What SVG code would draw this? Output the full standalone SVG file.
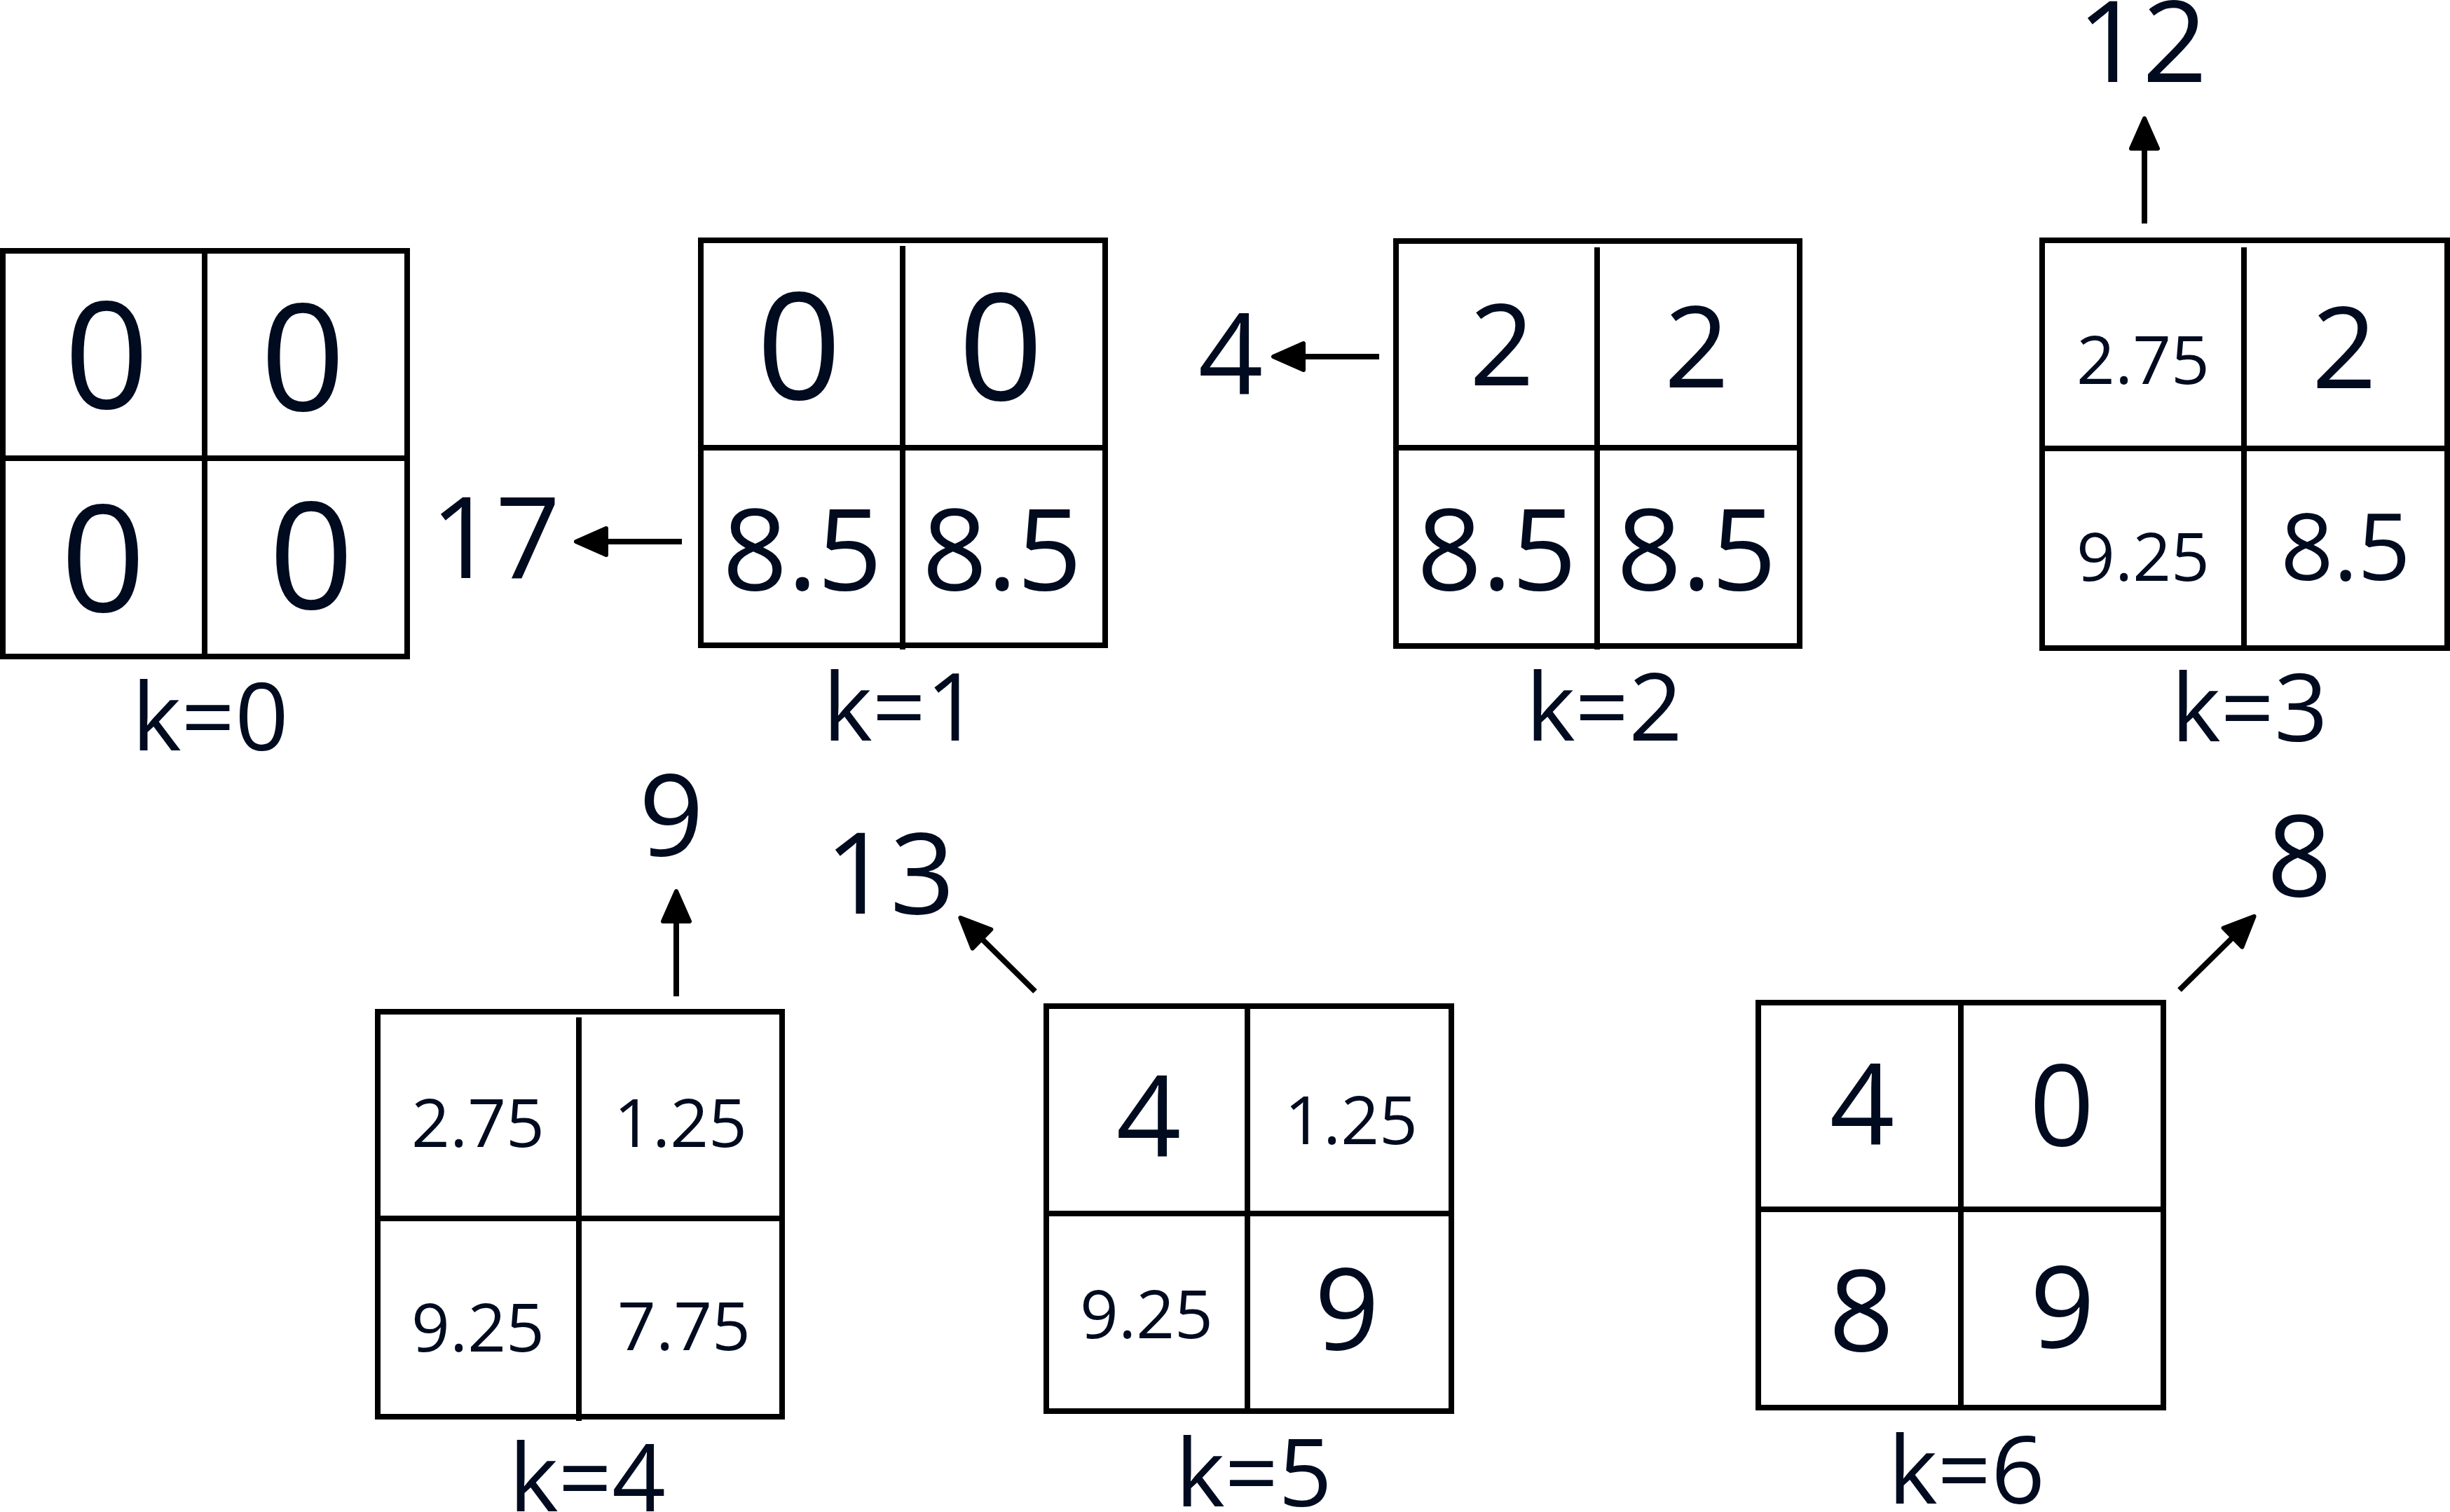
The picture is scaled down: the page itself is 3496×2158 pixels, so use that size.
<svg xmlns="http://www.w3.org/2000/svg" width="3496" height="2158" viewBox="0 0 3496 2158">
<style>
.box{fill:none;stroke:#000;stroke-width:8}
.ln{stroke:#000;stroke-width:8;fill:none}
text{font-family:"Open Sans","Noto Sans","DejaVu Sans",sans-serif;fill:#010b1f;text-anchor:middle}
.big{font-size:212px}
.mid{font-size:162px}
.m2{font-size:132px}
.sm{font-size:96px}
.lbl{font-size:134px}
.arr{stroke:#000;stroke-width:8;fill:none;marker-end:url(#head)}
</style>
<defs>
<marker id="head" markerUnits="userSpaceOnUse" viewBox="-5 -25 55 50" markerWidth="55" markerHeight="50" refX="0" refY="0" orient="auto">
<path d="M0,-19 L43,0 L0,19 Z" fill="#000" stroke="#000" stroke-width="6" stroke-linejoin="round"/>
</marker>
</defs>
<rect width="3496" height="2158" fill="#fff"/>
<g id="connectors">
<line class="arr" x1="973" y1="773" x2="865" y2="773"/>
<line class="arr" x1="1968" y1="509" x2="1860" y2="509"/>
<line class="arr" x1="3060" y1="319" x2="3060" y2="212"/>
<line class="arr" x1="965" y1="1422" x2="965" y2="1315"/>
<line class="arr" x1="1477" y1="1415" x2="1401" y2="1340"/>
<line class="arr" x1="3110" y1="1413" x2="3186" y2="1338"/>
</g>
<g id="k0">
<rect class="box" x="4" y="358" width="577" height="579"/>
<line class="ln" x1="292" y1="358" x2="292" y2="937"/>
<line class="ln" x1="4" y1="654" x2="581" y2="654"/>
<text class="big" x="152" y="583">0</text>
<text class="big" x="432" y="586">0</text>
<text class="big" x="147" y="873">0</text>
<text class="big" x="444" y="869">0</text>
<text class="lbl" x="300" y="1071">k=0</text>
</g>
<g id="k1">
<rect class="box" x="1000" y="343" width="577" height="578"/>
<line class="ln" x1="1288" y1="351" x2="1288" y2="927"/>
<line class="ln" x1="1000" y1="639" x2="1577" y2="639"/>
<text class="big" x="1140" y="570">0</text>
<text class="big" x="1428" y="571">0</text>
<text class="mid" x="1145" y="842">8.5</text>
<text class="mid" x="1430" y="842">8.5</text>
<text class="lbl" x="1286" y="1057">k=1</text>
<text class="mid" x="707" y="825">17</text>
</g>
<g id="k2">
<rect class="box" x="1992" y="344" width="576" height="578"/>
<line class="ln" x1="2279" y1="353" x2="2279" y2="927"/>
<line class="ln" x1="1992" y1="639" x2="2568" y2="639"/>
<text class="mid" x="2143" y="550">2</text>
<text class="mid" x="2421" y="553">2</text>
<text class="mid" x="2136" y="842">8.5</text>
<text class="mid" x="2421" y="842">8.5</text>
<text class="lbl" x="2289" y="1057">k=2</text>
<text class="mid" x="1756" y="563">4</text>
</g>
<g id="k3">
<rect class="box" x="2914" y="343" width="578" height="582"/>
<line class="ln" x1="3202" y1="353" x2="3202" y2="928"/>
<line class="ln" x1="2914" y1="640" x2="3492" y2="640"/>
<text class="sm" x="3058" y="548">2.75</text>
<text class="mid" x="3345" y="554">2</text>
<text class="sm" x="3058" y="829">9.25</text>
<text class="m2" x="3347" y="828">8.5</text>
<text class="lbl" x="3210" y="1058">k=3</text>
<text class="mid" x="3057" y="117">12</text>
</g>
<g id="k4">
<rect class="box" x="539" y="1444" width="577" height="578"/>
<line class="ln" x1="826" y1="1452" x2="826" y2="2028"/>
<line class="ln" x1="539" y1="1739" x2="1116" y2="1739"/>
<text class="sm" x="682" y="1637">2.75</text>
<text class="sm" x="971" y="1637">1.25</text>
<text class="sm" x="682" y="1929">9.25</text>
<text class="sm" x="976" y="1927">7.75</text>
<text class="lbl" x="838" y="2157">k=4</text>
<text class="mid" x="958" y="1221">9</text>
</g>
<g id="k5">
<rect class="box" x="1493" y="1436" width="578" height="578"/>
<line class="ln" x1="1780" y1="1436" x2="1780" y2="2014"/>
<line class="ln" x1="1493" y1="1732" x2="2071" y2="1732"/>
<text class="mid" x="1639" y="1651">4</text>
<text class="sm" x="1928" y="1633">1.25</text>
<text class="sm" x="1636" y="1910">9.25</text>
<text class="mid" x="1922" y="1926">9</text>
<text class="lbl" x="1789" y="2150">k=5</text>
<text class="mid" x="1270" y="1304">13</text>
</g>
<g id="k6">
<rect class="box" x="2509" y="1431" width="578" height="578"/>
<line class="ln" x1="2798" y1="1431" x2="2798" y2="2009"/>
<line class="ln" x1="2509" y1="1726" x2="3087" y2="1726"/>
<text class="mid" x="2657" y="1634">4</text>
<text class="mid" x="2942" y="1635">0</text>
<text class="mid" x="2656" y="1928">8</text>
<text class="mid" x="2943" y="1923">9</text>
<text class="lbl" x="2806" y="2146">k=6</text>
<text class="mid" x="3281" y="1279">8</text>
</g>
</svg>
